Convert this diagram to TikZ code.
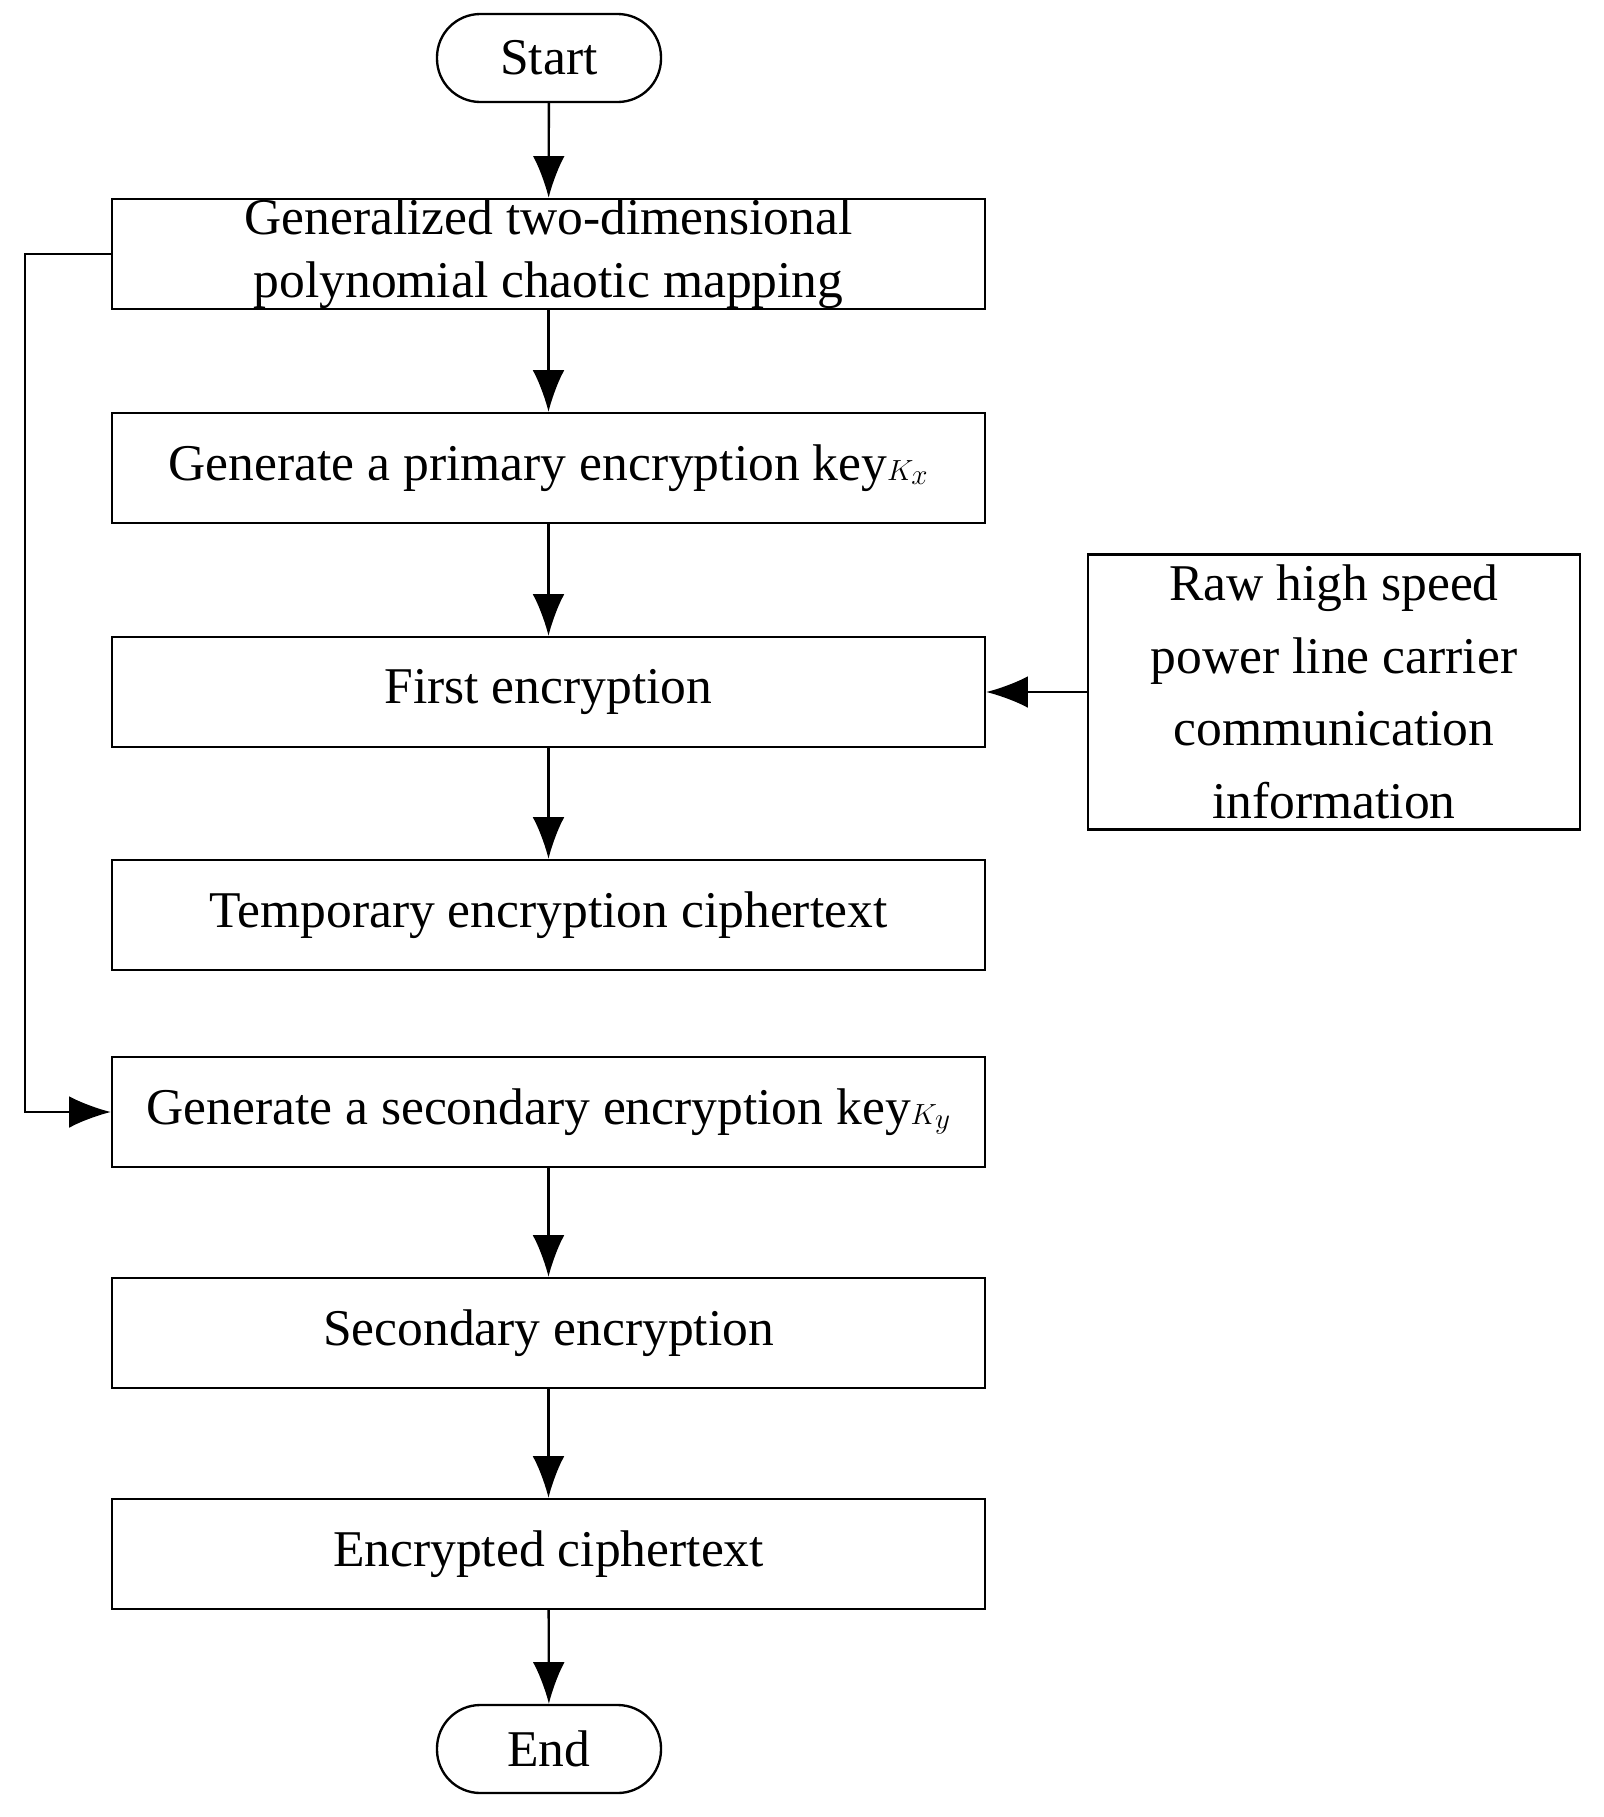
\documentclass[tikz,border=0pt]{standalone}
\usepackage{fontspec}
\setmainfont{Liberation Serif}
\usetikzlibrary{arrows.meta}
\begin{document}
\begin{tikzpicture}[x=0.03cm,y=-0.03cm,
  box/.style={draw,line width=2pt,minimum width=26.19cm,minimum height=3.3cm,align=center,font=\fontsize{44}{54}\selectfont,inner sep=0pt},
  term/.style={draw,line width=2pt,rounded corners=1.3cm,minimum width=6.72cm,minimum height=2.64cm,font=\fontsize{44}{54}\selectfont},
  arr/.style={line width=2pt,-{Latex[length=1.25cm,width=0.95cm]}}]
\useasboundingbox (0,0) rectangle (1604,1817);
\node[term] (s) at (549,58) {Start};
\node[box] (b1) at (548.5,254) {Generalized two-dimensional\\polynomial chaotic mapping};
\node[box] (b2) at (548.5,468) {Generate a primary encryption key$K_x$};
\node[box] (b3) at (548.5,692) {First encryption};
\node[box] (b4) at (548.5,915) {Temporary encryption ciphertext};
\node[box] (b5) at (548.5,1112) {Generate a secondary encryption key$K_y$};
\node[box] (b6) at (548.5,1333) {Secondary encryption};
\node[box] (b7) at (548.5,1554) {Encrypted ciphertext};
\node[term] (e) at (549,1749) {End};
\node[box,minimum width=14.76cm,minimum height=8.25cm,font=\fontsize{44}{62}\selectfont] (r) at (1334,692) {Raw high speed\\power line carrier\\communication\\information};
\draw[arr] (s) -- (b1);
\draw[arr] (b1) -- (b2);
\draw[arr] (b2) -- (b3);
\draw[arr] (b3) -- (b4);
\draw[arr] (b5) -- (b6);
\draw[arr] (b6) -- (b7);
\draw[arr] (b7) -- (e);
\draw[arr] (r) -- (b3);
\coordinate (c1) at (25,254);
\coordinate (c2) at (25,1112);
\draw[arr] (b1.west) -- (c1) -- (c2) -- (b5.west);
\end{tikzpicture}
\end{document}
